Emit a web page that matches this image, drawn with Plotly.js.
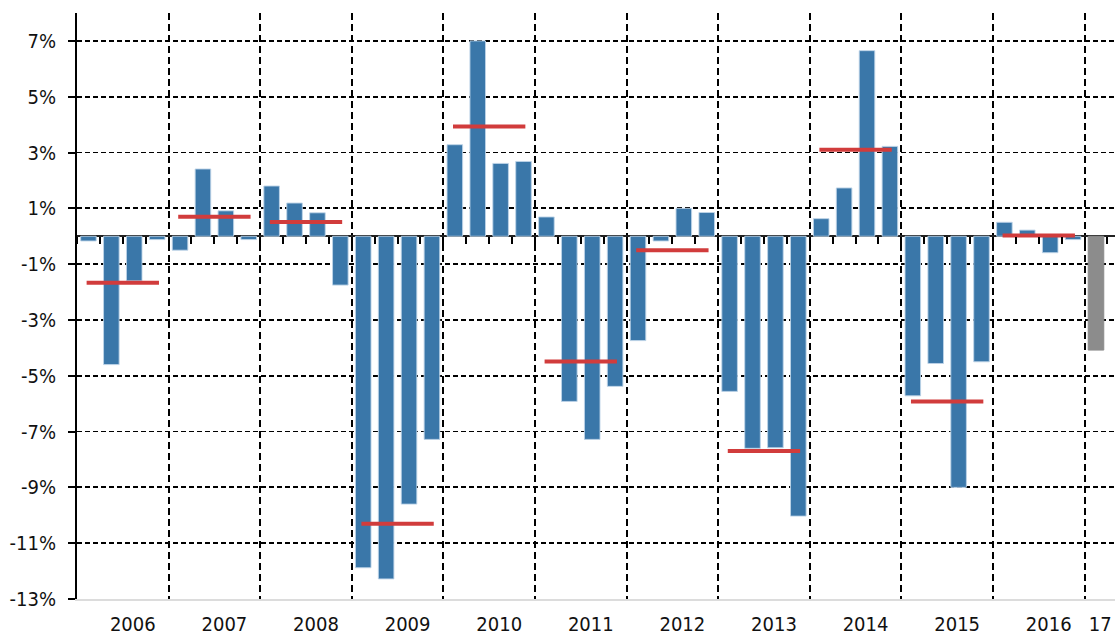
<!DOCTYPE html>
<html>
<head>
<meta charset="utf-8">
<script src="https://cdn.plot.ly/plotly-3.0.1.min.js"></script>
<style>html,body{margin:0;padding:0;background:#fff;}#chart{width:1115px;height:637px;}</style>
</head>
<body>
<div id="chart"></div>
<script>
// Year labels (one per year; 2017 shown as "17")
const years = ['2006','2007','2008','2009','2010','2011','2012','2013','2014','2015','2016','17'];
// Quarterly values in %, 2006Q1 .. 2017Q1
const growth = [
  -0.17, -4.6, -1.6, -0.12,
  -0.5, 2.41, 0.91, -0.12,
  1.8, 1.19, 0.84, -1.75,
  -11.88, -12.28, -9.6, -7.28,
  3.28, 7.0, 2.61, 2.68,
  0.69, -5.92, -7.28, -5.38,
  -3.74, -0.17, 1.0, 0.85,
  -5.56, -7.6, -7.58, -10.03,
  0.63, 1.73, 6.65, 3.22,
  -5.72, -4.56, -9.0, -4.5,
  0.5, 0.22, -0.59, -0.12,
  -4.08
];
// Annual averages in % (red lines), 2006 .. 2016
const annualAvg = [-1.67, 0.7, 0.51, -10.3, 3.93, -4.49, -0.5, -7.7, 3.1, -5.92, 0.03];
// Y tick values and labels
const yTicks = [7, 5, 3, 1, -1, -3, -5, -7, -9, -11, -13];
const yTickText = ['7%', '5%', '3%', '1%', '-1%', '-3%', '-5%', '-7%', '-9%', '-11%', '-13%'];

const BLUE = '#3a77a9', GREY = '#8c8c8c', RED = '#d13c3c';
const FONT = 'DejaVu Sans Condensed, DejaVu Sans, sans-serif';

const qx = growth.map((_, i) => i);
const barColors = growth.map((_, i) => i === growth.length - 1 ? GREY : BLUE);
const lineColors = growth.map((_, i) => i === growth.length - 1 ? GREY : 'rgba(190,212,232,0.9)');

const avgX = [], avgY = [];
annualAvg.forEach((v, k) => { avgX.push(4*k - 0.08, 4*k + 3.08, null); avgY.push(v, v, null); });

const yearTickVals = years.map((_, k) => 4*k + 1.5);
yearTickVals[yearTickVals.length - 1] = 43.75;

const traces = [
  {type:'bar', x: qx, y: growth, marker:{color: barColors, line:{color: lineColors, width:1}},
   hoverinfo:'skip', showlegend:false},
  {type:'scatter', mode:'lines', x: avgX, y: avgY, xaxis:'x2', yaxis:'y',
   line:{color: RED, width:4}, hoverinfo:'skip', showlegend:false}
];

const xr = [-0.5, 44.83];
const TICKFONT = {family: FONT, size:20, color:'#111'};
const layout = {
  width:1115, height:637,
  margin:{l:77, r:0, t:13, b:38, pad:0},
  paper_bgcolor:'#fff', plot_bgcolor:'#fff',
  bargap:0.32,
  font:{family: FONT, size:20, color:'#111'},
  xaxis:{
    range: xr, fixedrange:true,
    tickmode:'array', tickvals: yearTickVals, ticktext: years, tickfont: TICKFONT,
    ticks:'', showgrid:false, zeroline:false,
    ticklabelshift: 10, ticklabelstandoff: 6, ticklabeloverflow:'allow',
    showline:true, linecolor:'#dcdcdc', linewidth:1.5,
    minor:{tick0:-0.5, dtick:4, showgrid:true, gridcolor:'#000', gridwidth:2, griddash:'7px,4px', ticks:''}
  },
  xaxis2:{
    range: xr, overlaying:'x', anchor:'free', position: 13/21, side:'bottom',
    tickmode:'linear', tick0:-0.5, dtick:1, ticks:'outside', ticklen:7, tickwidth:2, tickcolor:'#000',
    showticklabels:false, showgrid:false, zeroline:false, showline:false, fixedrange:true
  },
  yaxis:{
    range:[-13, 8], fixedrange:true,
    tickmode:'array', tickvals: yTicks, ticktext: yTickText, tickfont: TICKFONT,
    ticks:'outside', ticklen:7, tickwidth:2, tickcolor:'#000', ticklabelstandoff: 8,
    showline:true, linecolor:'#000', linewidth:2,
    showgrid:true, gridcolor:'#000', gridwidth:1.8, griddash:'5px,3px',
    zeroline:true, zerolinecolor:'#222', zerolinewidth:2
  }
};

Plotly.newPlot('chart', traces, layout, {displayModeBar:false, staticPlot:true});
</script>
</body>
</html>
